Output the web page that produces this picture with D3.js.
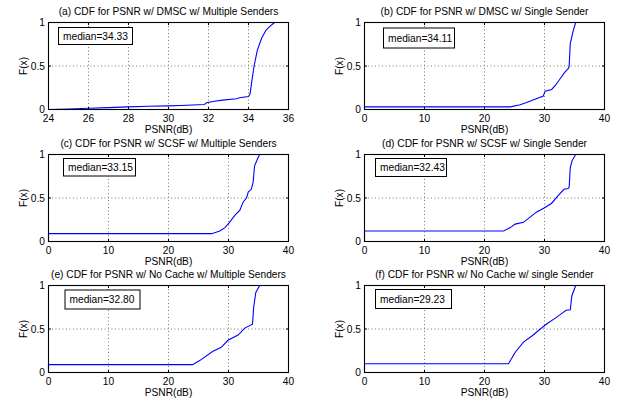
<!DOCTYPE html>
<html>
<head>
<meta charset="utf-8">
<script src="https://cdn.jsdelivr.net/npm/d3@7"></script>
<style>
  body { margin: 0; background: #fff; }
  svg { display: block; }
  text { font-family: "Liberation Sans", Arial, Helvetica, sans-serif; font-size: 10.2px; fill: #000; }
  .grid { stroke: #555; stroke-width: 0.8; stroke-dasharray: 1,2.5; }
  .frame { fill: none; stroke: #000; stroke-width: 1.1; }
  .cdf { fill: none; stroke: #0000ff; stroke-width: 1.1; }
</style>
</head>
<body>
<div id="chart"></div>
<script>
var titles = [
  "(a) CDF for PSNR w/ DMSC w/ Multiple Senders",
  "(b) CDF for PSNR w/ DMSC w/ Single Sender",
  "(c) CDF for PSNR w/ SCSF w/ Multiple Senders",
  "(d) CDF for PSNR w/ SCSF w/ Single Sender",
  "(e) CDF for PSNR w/ No Cache w/ Multiple Senders",
  "(f) CDF for PSNR w/ No Cache w/ single Sender"
]
var medians = ["34.33", "34.11", "33.15", "32.43", "32.80", "29.23"]

var xTicksA = [24, 26, 28, 30, 32, 34, 36]
var xTicks = [0, 10, 20, 30, 40]
var yTicks = [0, 0.5, 1]

// psnr (dB) / cdf pairs
var psnrA = [24, 25, 26, 27, 28, 29, 30, 30.6, 31.8, 31.9, 32.3, 32.7, 33.4, 33.55, 34.0, 34.08, 34.15, 34.28, 34.44, 34.65, 34.87, 35.04, 35.3]
var cdfA  = [0, 0.006, 0.015, 0.022, 0.03, 0.037, 0.042, 0.046, 0.058, 0.077, 0.095, 0.108, 0.124, 0.135, 0.15, 0.18, 0.3, 0.5, 0.68, 0.815, 0.91, 0.95, 1.0]

var psnrB = [0, 0, 24.3, 25.95, 27, 28.2, 29.8, 30.1, 31.2, 31.8, 32.6, 33.4, 33.95, 34.1, 34.3, 34.8, 35.2]
var cdfB  = [0, 0.03, 0.03, 0.054, 0.08, 0.112, 0.154, 0.21, 0.23, 0.276, 0.354, 0.43, 0.47, 0.49, 0.76, 0.91, 1.0]

var psnrC = [0, 0, 27.2, 28.55, 29.4, 30.1, 31.05, 31.9, 32.45, 33.0, 33.3, 33.8, 34.1, 34.35, 34.9, 35.2]
var cdfC  = [0, 0.09, 0.09, 0.12, 0.16, 0.215, 0.30, 0.36, 0.455, 0.5, 0.57, 0.60, 0.68, 0.87, 0.96, 1.0]

var psnrD = [0, 0, 23.2, 24.3, 25.1, 26.5, 27.6, 28.7, 30.1, 31.2, 32.3, 33.25, 33.95, 34.1, 34.3, 34.6, 35.2]
var cdfD  = [0, 0.12, 0.12, 0.16, 0.20, 0.22, 0.28, 0.34, 0.39, 0.44, 0.53, 0.6, 0.61, 0.62, 0.85, 0.93, 1.0]

var psnrE = [0, 0, 24.0, 25.2, 27.4, 28.8, 29.9, 31.6, 32.7, 34.0, 34.2, 34.55, 35.2]
var cdfE  = [0, 0.09, 0.09, 0.137, 0.245, 0.29, 0.37, 0.43, 0.51, 0.556, 0.75, 0.92, 1.0]

var psnrF = [0, 0, 24.0, 25.1, 26.5, 27.9, 29.3, 30.4, 31.8, 32.9, 33.6, 34.3, 34.55, 35.2]
var cdfF  = [0, 0.1, 0.1, 0.23, 0.35, 0.42, 0.50, 0.56, 0.625, 0.68, 0.715, 0.72, 0.88, 1.0]

var series = [
  [psnrA, cdfA], [psnrB, cdfB], [psnrC, cdfC],
  [psnrD, cdfD], [psnrE, cdfE], [psnrF, cdfF]
]

// layout
var colLeft = [48.5, 364.5]
var rowTop = [22.5, 154.5, 285.5]
var pw = 240, ph = 87
// median box: offset from plot corner + size
var boxes = [[10, 5, 74, 17], [19, 5.5, 71, 20], [15, 4, 72, 17.5], [11, 4, 71, 18], [16.5, 4.5, 75, 19], [11, 4, 76, 19]]

var svg = d3.select("#chart").append("svg")
  .attr("width", 628)
  .attr("height", 403)

function panel(i) {
  var left = colLeft[i % 2]
  var top = rowTop[Math.floor(i / 2)]
  var ticks = i == 0 ? xTicksA : xTicks

  var x = d3.scaleLinear().domain(d3.extent(ticks)).range([0, pw])
  var y = d3.scaleLinear().domain([0, 1]).range([ph, 0])

  var g = svg.append("g").attr("transform", "translate(" + left + "," + top + ")")

  // dotted grid (inner ticks only)
  g.selectAll(".gx").data(ticks.slice(1, -1)).enter().append("line")
    .attr("class", "grid")
    .attr("x1", function(d) { return x(d) }).attr("x2", function(d) { return x(d) })
    .attr("y1", 0).attr("y2", ph)
  g.selectAll(".gy").data(yTicks.slice(1, -1)).enter().append("line")
    .attr("class", "grid")
    .attr("x1", 0).attr("x2", pw)
    .attr("y1", function(d) { return y(d) }).attr("y2", function(d) { return y(d) })

  // curve
  var pts = series[i][0].map(function(v, k) { return [v, series[i][1][k]] })
  var line = d3.line()
    .x(function(d) { return x(d[0]) })
    .y(function(d) { return y(d[1]) })
  g.append("path").attr("class", "cdf").attr("d", line(pts))

  // inward ticks on all four sides, matlab style
  var tl = 2.5
  ticks.forEach(function(t) {
    g.append("line").attr("stroke", "#000")
      .attr("x1", x(t)).attr("x2", x(t)).attr("y1", ph).attr("y2", ph - tl)
    g.append("line").attr("stroke", "#000")
      .attr("x1", x(t)).attr("x2", x(t)).attr("y1", 0).attr("y2", tl)
  })
  yTicks.forEach(function(t) {
    g.append("line").attr("stroke", "#000")
      .attr("x1", 0).attr("x2", tl).attr("y1", y(t)).attr("y2", y(t))
    g.append("line").attr("stroke", "#000")
      .attr("x1", pw).attr("x2", pw - tl).attr("y1", y(t)).attr("y2", y(t))
  })

  g.append("rect").attr("class", "frame")
    .attr("x", 0).attr("y", 0).attr("width", pw).attr("height", ph)

  // tick labels
  g.selectAll(".xl").data(ticks).enter().append("text")
    .attr("x", function(d) { return x(d) })
    .attr("y", ph + 12.5)
    .attr("text-anchor", "middle")
    .text(function(d) { return d })
  g.selectAll(".yl").data(yTicks).enter().append("text")
    .attr("x", -3.5)
    .attr("y", function(d) { return y(d) + 3.5 })
    .attr("text-anchor", "end")
    .text(function(d) { return d })

  // titles and axis labels
  g.append("text")
    .attr("x", pw / 2).attr("y", -7.5)
    .attr("text-anchor", "middle")
    .text(titles[i])
  g.append("text")
    .attr("x", pw / 2).attr("y", ph + 23)
    .attr("text-anchor", "middle")
    .text("PSNR(dB)")
  g.append("text")
    .attr("transform", "translate(-22," + (ph / 2) + ") rotate(-90)")
    .attr("text-anchor", "middle")
    .text("F(x)")

  // median box
  var b = boxes[i]
  g.append("rect")
    .attr("x", b[0]).attr("y", b[1]).attr("width", b[2]).attr("height", b[3])
    .attr("fill", "#fff").attr("stroke", "#000").attr("stroke-width", 1)
  g.append("text")
    .attr("x", b[0] + 4.5).attr("y", b[1] + b[3] / 2 + 3.6)
    .text("median=" + medians[i])
}

for (var i = 0; i < 6; i++) panel(i)
</script>
</body>
</html>
